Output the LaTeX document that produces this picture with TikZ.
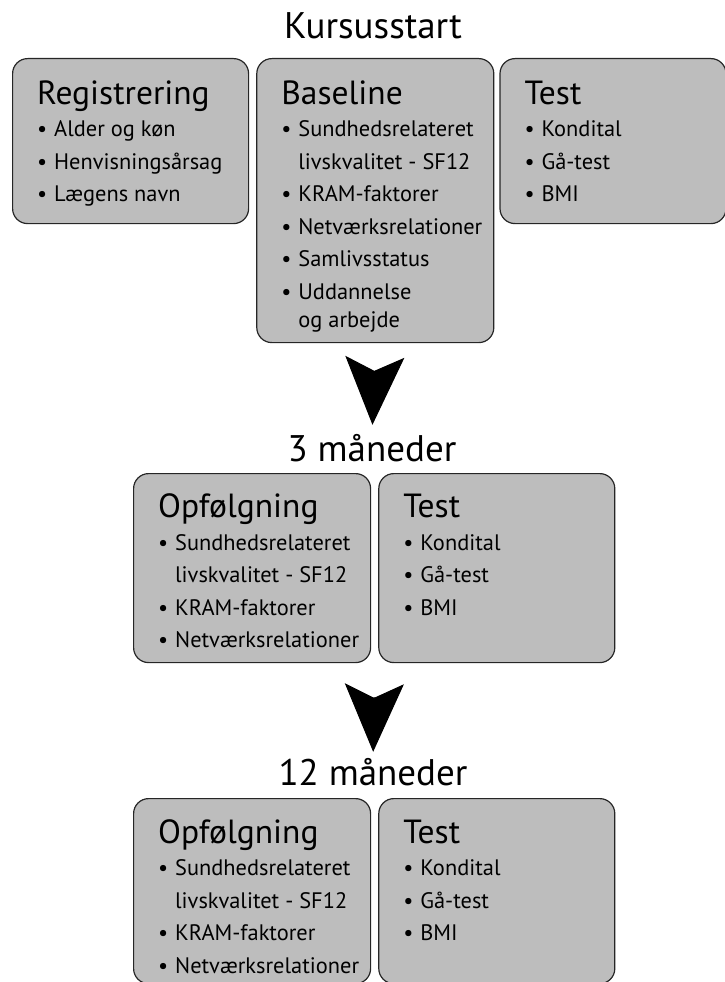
\documentclass[tikz,border=0pt]{standalone}
\usepackage{fontspec}
\setmainfont{PT Sans}
\usetikzlibrary{arrows.meta,positioning,calc}
\definecolor{boxgray}{HTML}{BDBDBD}
\tikzset{
      box/.style = {draw=black!85, line width=1.2pt, fill=boxgray,
                    rounded corners=15pt, anchor=north west, inner sep=0pt},
     list/.style = {anchor=base west, inner sep=0pt,
                    font=\fontsize{22.4}{32.5}\selectfont},
     head/.style = {anchor=base, inner sep=0pt, text height=23pt, text depth=0pt,
                    font=\fontsize{37}{40}\selectfont},
     dart/.style = {-{Stealth[length=68pt, width=59pt, inset=14pt]}, line width=1pt},
        }
\newcommand{\ttl}[1]{{\fontsize{33.5}{32.5}\selectfont #1}}
\newcommand{\itm}[1]{\makebox[17pt][l]{\textbullet}#1}
\newcommand{\cnt}[1]{\hspace*{17pt}#1}
\begin{document}
\begin{tikzpicture}[x=1pt, y=-1pt, node distance=7pt]
  \useasboundingbox (0,0) rectangle (724,982);

  % Kursusstart
  \node[head] (start) at (373,38) {Kursusstart};
  \node[box, minimum width=236pt, minimum height=165pt] (reg) at (12,58) {};
  \node[box, minimum width=237pt, minimum height=284pt,
        right=7pt of reg.north east, anchor=north west] (base) {};
  \node[box, minimum width=226pt, minimum height=165pt,
        right=5pt of base.north east, anchor=north west] (test1) {};

  \node[list] (reglist) at ($(reg.north west)+(25,46)$) {\parbox[t]{220pt}{%
      \ttl{Registrering}\\
      \itm{Alder og køn}\\
      \itm{Henvisningsårsag}\\
      \itm{Lægens navn}}};
  \node[list] (baselist) at ($(base.north west)+(25,46)$) {\parbox[t]{220pt}{%
      \ttl{Baseline}\\
      \itm{Sundhedsrelateret}\\
      \cnt{livskvalitet - SF12}\\
      \itm{KRAM-faktorer}\\
      \itm{Netværksrelationer}\\
      \itm{Samlivsstatus}\\
      \itm{Uddannelse}\\[-4.5pt]
      \cnt{og arbejde}}};
  \node[list] (test1list) at ($(test1.north west)+(25,46)$) {\parbox[t]{200pt}{%
      \ttl{Test}\\
      \itm{Kondital}\\
      \itm{Gå-test}\\
      \itm{BMI}}};

  % 3 maaneder
  \node[head] (m3) at (372,461) {3 måneder};
  \draw[dart, shorten <=30pt, shorten >=13pt] (base.south) -- (m3.north);
  \node[box, minimum width=237pt, minimum height=189pt] (opf3) at (133,473) {};
  \node[box, minimum width=236pt, minimum height=189pt,
        right=7pt of opf3.north east, anchor=north west] (test3) {};
  \node[list] (opf3list) at ($(opf3.north west)+(25,44.5)$) {\parbox[t]{220pt}{%
      \ttl{Opfølgning}\\
      \itm{Sundhedsrelateret}\\
      \cnt{livskvalitet - SF12}\\
      \itm{KRAM-faktorer}\\
      \itm{Netværksrelationer}}};
  \node[list] (test3list) at ($(test3.north west)+(25,44.5)$) {\parbox[t]{200pt}{%
      \ttl{Test}\\
      \itm{Kondital}\\
      \itm{Gå-test}\\
      \itm{BMI}}};

  % 12 maaneder
  \coordinate (g3) at ($(opf3.south east)!.5!(test3.south west)$);
  \node[head] (m12) at (373,785) {12 måneder};
  \draw[dart, shorten <=34pt, shorten >=10pt] (g3) -- (m12.north);
  \node[box, minimum width=237pt, minimum height=185pt] (opf12) at (133,798) {};
  \node[box, minimum width=236pt, minimum height=185pt,
        right=7pt of opf12.north east, anchor=north west] (test12) {};
  \node[list] (opf12list) at ($(opf12.north west)+(25,45)$) {\parbox[t]{220pt}{%
      \ttl{Opfølgning}\\
      \itm{Sundhedsrelateret}\\
      \cnt{livskvalitet - SF12}\\
      \itm{KRAM-faktorer}\\
      \itm{Netværksrelationer}}};
  \node[list] (test12list) at ($(test12.north west)+(25,45)$) {\parbox[t]{200pt}{%
      \ttl{Test}\\
      \itm{Kondital}\\
      \itm{Gå-test}\\
      \itm{BMI}}};
\end{tikzpicture}
\end{document}
